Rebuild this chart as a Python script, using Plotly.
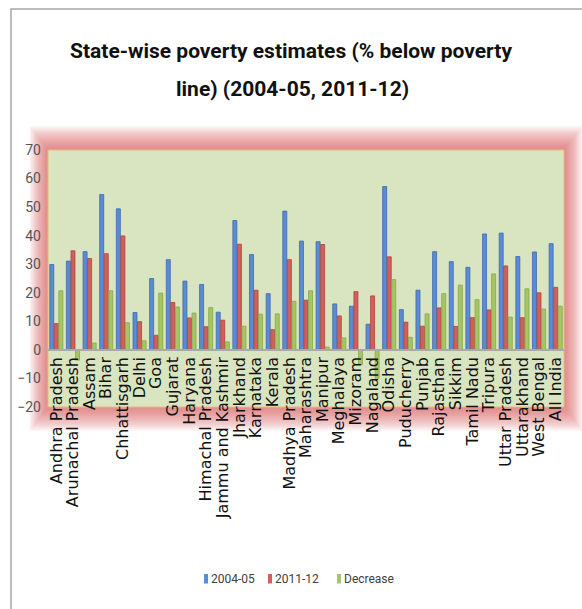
import plotly.graph_objects as go

# State-wise poverty ratios (% of population below poverty line)
states = [
    "Andhra Pradesh", "Arunachal Pradesh", "Assam", "Bihar", "Chhattisgarh",
    "Delhi", "Goa", "Gujarat", "Haryana", "Himachal Pradesh",
    "Jammu and Kashmir", "Jharkhand", "Karnataka", "Kerala", "Madhya Pradesh",
    "Maharashtra", "Manipur", "Meghalaya", "Mizoram", "Nagaland",
    "Odisha", "Puducherry", "Punjab", "Rajasthan", "Sikkim",
    "Tamil Nadu", "Tripura", "Uttar Pradesh", "Uttarakhand", "West Bengal",
    "All India",
]
pov_2004 = [29.9, 31.1, 34.4, 54.4, 49.4, 13.1, 25.0, 31.6, 24.1, 22.9,
            13.2, 45.3, 33.4, 19.7, 48.6, 38.1, 37.9, 16.1, 15.3, 9.0,
            57.2, 14.1, 20.9, 34.4, 30.9, 28.9, 40.6, 40.9, 32.7, 34.3,
            37.2]
pov_2011 = [9.2, 34.7, 32.0, 33.7, 39.9, 9.9, 5.1, 16.6, 11.2, 8.1,
            10.4, 37.0, 20.9, 7.1, 31.6, 17.4, 36.9, 11.9, 20.4, 18.9,
            32.6, 9.7, 8.3, 14.7, 8.2, 11.3, 14.0, 29.4, 11.3, 20.0,
            21.9]
decrease = [20.7, -3.6, 2.4, 20.7, 9.5, 3.2, 19.9, 15.0, 12.9, 14.8,
            2.8, 8.3, 12.5, 12.6, 17.0, 20.7, 1.0, 4.2, -5.1, -9.9,
            24.6, 4.4, 12.6, 19.7, 22.7, 17.6, 26.6, 11.5, 21.4, 14.3,
            15.3]
series_names = ["2004-05", "2011-12", "Decrease"]
y_ticks = [-20, -10, 0, 10, 20, 30, 40, 50, 60, 70]

# Canvas geometry (pixels)
W, H = 582, 609
ML, MR, MT, MB = 48, 18, 150, 202
PW, PH = W - ML - MR, H - MT - MB


def px(x):
    return (x - ML) / PW


def py(y):
    return (H - MB - y) / PH


fills = ["#5B8BD2", "#D0605C", "#A6C666"]
edges = ["#3D69AE", "#AE413E", "#86A848"]

fig = go.Figure()
for name, vals, fc, ec in zip(series_names, [pov_2004, pov_2011, decrease], fills, edges):
    fig.add_trace(go.Bar(
        x=list(range(len(states))), y=vals, name=name,
        marker=dict(color=fc, line=dict(color=ec, width=0.8)),
        showlegend=False,
    ))

# red glow around the plotting area, then the green plot background over it
shapes = []
for i in range(13, 0, -1):
    d = i * 1.4
    shapes.append(dict(
        type="rect", xref="paper", yref="paper", layer="below",
        x0=px(ML - d), x1=px(W - MR + d), y0=py(H - MB + d * 1.3), y1=py(MT - d * 1.3),
        line=dict(width=0), fillcolor="rgba(214,95,95,0.08)",
    ))
shapes.append(dict(
    type="rect", xref="paper", yref="paper", layer="below",
    x0=0, x1=1, y0=0, y1=1,
    line=dict(color="#EDB878", width=1), fillcolor="#D9E5C0",
))
# chart frame
shapes.append(dict(
    type="path", xref="paper", yref="paper", layer="below",
    path=f"M {px(11)},{py(615)} L {px(11)},{py(9)} L {px(600)},{py(9)}",
    line=dict(color="#A8A8A8", width=1.5),
))

title_font = dict(family="Roboto", size=21, color="#111111", weight="bold")
annotations = [
    dict(text="State-wise poverty estimates (% below poverty", xref="paper", yref="paper",
         x=px(291), y=py(51), showarrow=False, xanchor="center", yanchor="middle",
         font=title_font),
    dict(text="line) (2004-05, 2011-12)", xref="paper", yref="paper",
         x=px(292), y=py(89), showarrow=False, xanchor="center", yanchor="middle",
         font=title_font),
]

# legend row below the category labels
legend_left = [204, 268, 337]
for name, fc, lx in zip(series_names, fills, legend_left):
    shapes.append(dict(
        type="rect", xref="paper", yref="paper", layer="above",
        x0=px(lx), x1=px(lx + 4), y0=py(583.5), y1=py(574),
        line=dict(width=0), fillcolor=fc,
    ))
    annotations.append(dict(
        text=name, xref="paper", yref="paper", x=px(lx + 5), y=py(579),
        showarrow=False, xanchor="left", yanchor="middle",
        font=dict(family="Roboto", size=12, color="#404040"),
    ))

fig.update_layout(
    width=W, height=H,
    margin=dict(l=ML, r=MR, t=MT, b=MB),
    paper_bgcolor="white", plot_bgcolor="rgba(0,0,0,0)",
    barmode="group", bargap=0.18, bargroupgap=0.12,
    shapes=shapes, annotations=annotations,
    showlegend=False,
    xaxis=dict(
        range=[-0.5, len(states) - 0.5], anchor="free", position=20 / 90,
        tickmode="array", tickvals=list(range(len(states))), ticktext=states,
        tickangle=-90, showgrid=False, zeroline=False,
        showline=True, linecolor="#A9A9A9", linewidth=1.5, ticks="",
        tickfont=dict(family="DejaVu Sans", size=16, color="#111111"),
    ),
    yaxis=dict(
        range=[-20, 70], tickvals=y_ticks, showgrid=False, zeroline=False,
        showline=False, ticks="", ticklabelstandoff=6,
        tickfont=dict(family="Roboto", size=14, color="#555555"),
    ),
)

fig.write_html("out.html")
